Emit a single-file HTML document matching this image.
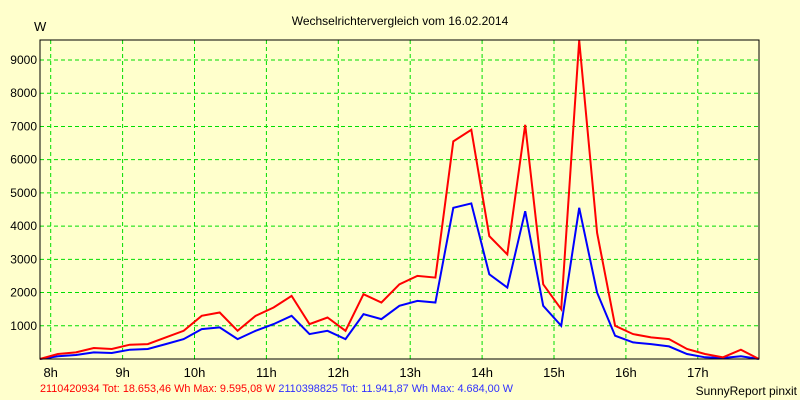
<!DOCTYPE html>
<html><head><meta charset="utf-8"><style>
body{margin:0;background:#ffffcc;}
svg{display:block;font-family:"Liberation Sans",sans-serif;}
</style></head><body>
<svg id="c" width="800" height="400">
<rect width="800" height="400" fill="#ffffcc"/>
<text x="400" y="25" font-size="12" text-anchor="middle">Wechselrichtervergleich vom 16.02.2014</text>
<text x="34" y="31" font-size="13">W</text>
<g id="grid"></g><g id="series"></g>
<rect x="40" y="40" width="719" height="319" fill="none" stroke="#000" stroke-width="1"/>
<text x="40" y="392" font-size="11" textLength="473" lengthAdjust="spacingAndGlyphs"><tspan fill="#ff0000">2110420934 Tot: 18.653,46 Wh Max: 9.595,08 W </tspan><tspan fill="#3030ff">2110398825 Tot: 11.941,87 Wh Max: 4.684,00 W</tspan></text>
<text x="797" y="395" font-size="12" text-anchor="end">SunnyReport pinxit</text>
</svg>
<script>
const yTicks=[1000,2000,3000,4000,5000,6000,7000,8000,9000];
const hourLabels=["8h","9h","10h","11h","12h","13h","14h","15h","16h","17h"];
const hours=[8,9,10,11,12,13,14,15,16,17];
const startHour=7.85, stepHour=0.25;
const redValues=[0,150,200,330,300,430,450,650,850,1300,1400,850,1300,1550,1900,1050,1250,850,1950,1700,2250,2500,2450,6550,6900,3700,3150,7050,2250,1500,9595,3800,1000,750,650,600,300,150,50,280,0];
const blueValues=[0,80,120,200,180,280,300,450,600,900,950,600,850,1050,1300,750,850,600,1350,1200,1600,1750,1700,4550,4684,2550,2150,4450,1600,1000,4550,2000,700,500,450,380,150,50,30,80,0];
const NS="http://www.w3.org/2000/svg";
const xs=t=>50.7+71.9*(t-8);
const ys=v=>359-v*0.03322;
const grid=document.getElementById('grid'),ser=document.getElementById('series');
function mk(tag,at,p){const e=document.createElementNS(NS,tag);for(const k in at)e.setAttribute(k,at[k]);p.appendChild(e);return e;}
yTicks.forEach(v=>{
 const l=mk('line',{x1:40,x2:759,y1:ys(v),y2:ys(v),stroke:'#00dd00','stroke-dasharray':'4,3'},grid);
 
 
 const t=mk('text',{x:37,y:ys(v)+4,'font-size':12,'text-anchor':'end'},grid);t.textContent=v;
 
 
});
hours.forEach((h,i)=>{
 const l=mk('line',{x1:xs(h),x2:xs(h),y1:40,y2:359,stroke:'#00dd00','stroke-dasharray':'4,3'},grid);
 
 
 const t=mk('text',{x:xs(h),y:377,'font-size':13,'text-anchor':'middle'},grid);t.textContent=hourLabels[i];
 
 
});
function line(vals,col,name){
 const pts=vals.map((v,i)=>xs(startHour+i*stepHour).toFixed(1)+','+ys(v).toFixed(1)).join(' ');
 const p=mk('polyline',{points:pts,fill:'none',stroke:col,'stroke-width':2,'stroke-linejoin':'miter'},ser);
 
 
}
line(blueValues,'#0000ff','blue-series-line');
line(redValues,'#ff0000','red-series-line');
</script>
</body></html>
